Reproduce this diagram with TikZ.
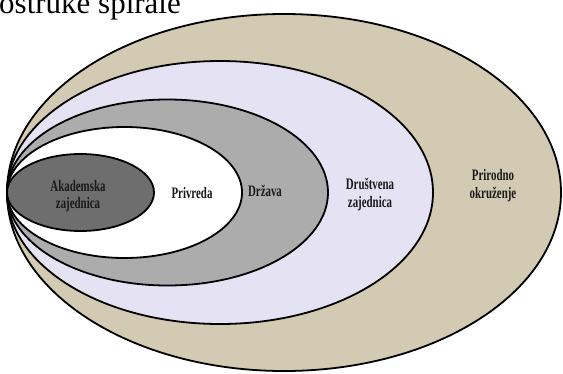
\documentclass[tikz,border=0pt]{standalone}
\usepackage{fontspec}
\setmainfont{Liberation Serif}
\newfontfamily\labelfont[FakeStretch=0.68]{Liberation Serif}
\definecolor{khaki}{RGB}{210,202,178}
\definecolor{lavender}{RGB}{229,226,243}
\definecolor{midgray}{RGB}{172,172,172}
\definecolor{darkgray}{RGB}{110,110,110}
\tikzset{
  ring/.style={draw=black, line width=1.8pt},
  lbl/.style={anchor=base, inner sep=0pt, text=black!90,
    font=\labelfont\bfseries\fontsize{16}{18}\selectfont},
}
\begin{document}
\begin{tikzpicture}[x=1pt,y=-1pt]
\useasboundingbox (0,0) rectangle (563,373);
\clip (0,0) rectangle (563,373);
\fill[white] (0,0) rectangle (563,373);
% ellipses, all touching at the left point
\path[ring, fill=khaki]    (284,192.5) ellipse (277 and 178.5);
\path[ring, fill=lavender] (220,192.5) ellipse (213 and 131.5);
\path[ring, fill=midgray]  (167.5,192.5) ellipse (160.5 and 93);
\path[ring, fill=white]    (124.5,192.5) ellipse (117.5 and 65.5);
\path[ring, fill=darkgray] (80.5,192.5) ellipse (73.5 and 38.5);
% labels
\node[lbl] (aka1) at (78,191) {Akademska};
\node[lbl] (aka2) at (78,208) {zajednica};
\node[lbl] (pri) at (192,198) {Privreda};
\node[lbl] (drz) at (265,196) {Država};
\node[lbl] (dru1) at (370,189) {Društvena};
\node[lbl] (dru2) at (370,207) {zajednica};
\node[lbl] (prk1) at (493,180) {Prirodno};
\node[lbl] (prk2) at (493,198) {okruženje};
% clipped title at top
\node[anchor=base west, inner sep=0pt, font=\fontsize{31}{31}\selectfont] (title) at (-1,13) {ostruke spirale};
\end{tikzpicture}
\end{document}
